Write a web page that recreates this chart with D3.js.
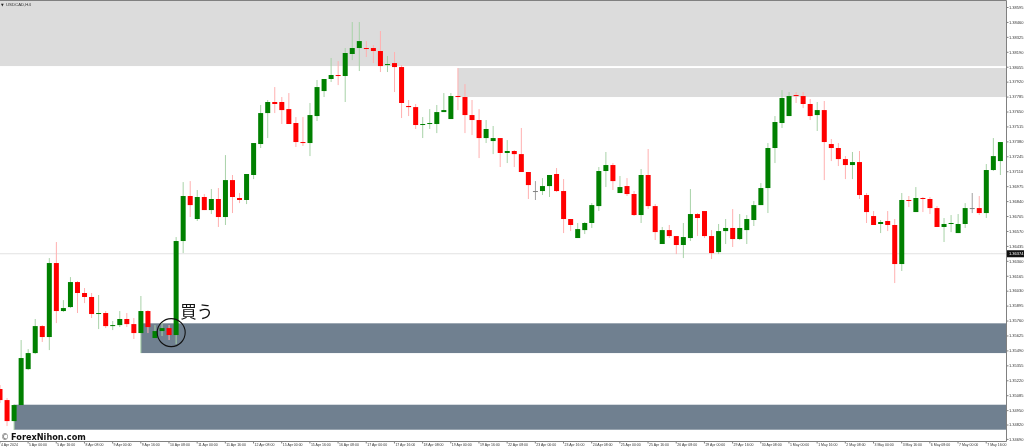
<!DOCTYPE html>
<html>
<head>
<meta charset="utf-8">
<script src="https://cdn.jsdelivr.net/npm/d3@7"></script>
<style>
  html, body { margin: 0; padding: 0; background: #fff; overflow: hidden; }
  svg { display: block; filter: blur(0.35px); }
  .tick text { font-family: "Liberation Sans", sans-serif; fill: #333; }
</style>
</head>
<body>
<div id="viz"></div>
<script>
const width = 1024;
const height = 447;

// USDCAD H4 quotes, in points (1/100000)
const opens = [
  135141,135041,134851,134996,135321,135466,135710,135611,136280,135846,
  135882,136108,136009,135973,135819,135828,135710,135719,135774,135728,
  135647,135846,135602,135665,135692,135629,136479,136886,136678,136877,
  136759,136859,136696,137030,136868,136850,137076,137356,137636,137736,
  137736,137672,137546,137374,137365,137609,137835,137944,137980,137971,
  138170,138224,138224,138224,138197,138070,138088,138052,137700,137690,
  137528,137537,137537,137645,137582,137790,137781,137618,137573,137410,
  137383,137410,137275,137293,137265,137103,136931,136931,136976,137085,
  136931,136678,136506,136578,136642,136795,137112,137166,136913,136976,
  136904,136714,137076,136795,136452,136578,136524,136443,136506,136723,
  136750,136524,136379,136569,136597,136497,136578,136669,136804,136958,
  137320,137546,137609,137799,137790,137718,137618,137663,137356,137320,
  137220,137166,137193,136895,136705,136633,136660,136624,136271,136850,
  136741,136868,136859,136777,136606,136633,136551,136633,136777,136777,
  136732,137121,137202
];
const highs = [
  135177,135059,135005,135584,135502,135774,135719,136325,136470,135945,
  136153,136117,136054,136009,135991,135846,135756,135846,135828,135783,
  135982,135855,135719,135747,135719,136515,137012,137021,136940,136904,
  136949,136958,137256,137076,136913,137085,137365,137709,137754,137871,
  137781,137817,137600,137600,137727,137935,137944,138134,138106,138224,
  138459,138459,138287,138251,138378,138152,138188,138070,137754,137718,
  137600,137672,137709,137817,137817,138043,137898,137754,137672,137573,
  137519,137410,137392,137302,137501,137103,137021,137048,137076,137139,
  137039,136678,136642,136651,136822,137148,137284,137184,137067,137048,
  136931,137130,137311,136813,136606,136624,136524,136642,136949,136732,
  136750,136578,136633,136678,136768,136723,136714,136841,137003,137365,
  137609,137844,137826,137826,137826,137763,137736,137745,137401,137365,
  137247,137284,137293,136913,136750,136669,136750,136678,136913,136886,
  136967,136877,136877,136795,136687,136714,136723,136822,136913,136886,
  137175,137410,137374
];
const lows = [
  135014,134806,134770,134996,135312,135457,135566,135493,135737,135837,
  135873,135828,135918,135783,135683,135692,135674,135701,135701,135593,
  135466,135647,135602,135620,135584,135548,136370,136696,136660,136759,
  136723,136606,136624,136732,136822,136813,137039,137320,137410,137636,
  137537,137537,137329,137338,137247,137564,137781,137917,137889,137736,
  138115,138016,138143,138088,138007,138007,137826,137591,137609,137492,
  137410,137492,137455,137645,137582,137663,137455,137437,137229,137365,
  137265,137148,137184,137148,137103,136859,136850,136895,136877,136922,
  136551,136569,136506,136542,136597,136750,136967,136940,136913,136886,
  136705,136642,136768,136488,136452,136506,136361,136325,136479,136524,
  136506,136316,136361,136452,136425,136488,136452,136615,136804,136732,
  137184,137501,137609,137727,137681,137573,137474,137030,137202,137157,
  137039,137039,136859,136642,136624,136551,136569,136099,136208,136786,
  136741,136741,136723,136606,136470,136560,136551,136597,136732,136714,
  136687,137112,137076
];
const closes = [
  135041,134851,134996,135421,135466,135710,135611,136280,135846,135873,
  136108,136009,135973,135819,135828,135710,135719,135774,135728,135647,
  135846,135701,135665,135692,135629,136479,136886,136804,136877,136759,
  136859,136696,137030,136877,136850,137085,137365,137636,137736,137718,
  137663,137537,137374,137365,137618,137871,137944,137980,137971,138179,
  138224,138287,138215,138197,138061,138079,138052,137727,137690,137528,
  137537,137546,137645,137663,137790,137781,137618,137573,137410,137492,
  137410,137275,137293,137265,137103,136985,136931,136976,137076,136931,
  136678,136624,136587,136642,136804,137112,137166,137021,136967,136904,
  136714,137076,136795,136560,136578,136524,136443,136515,136723,136687,
  136524,136370,136569,136597,136497,136597,136678,136804,136958,137320,
  137555,137772,137790,137790,137718,137609,137663,137374,137320,137220,
  137166,137193,136895,136741,136624,136651,136624,136271,136850,136841,
  136868,136859,136777,136606,136633,136642,136633,136777,136777,136732,
  137121,137247,137374
];

const priceTicks = [
  138595,138460,138325,138190,138055,137920,137785,137650,137515,137380,
  137245,137110,136975,136840,136705,136570,136435,136300,136165,136030,
  135895,135760,135625,135490,135355,135220,135085,134950,134820,134690
];
const timeLabels = [
  '4 Apr 2024','5 Apr 00:00','5 Apr 16:00','8 Apr 08:00','9 Apr 00:00','9 Apr 16:00',
  '10 Apr 08:00','11 Apr 00:00','11 Apr 16:00','12 Apr 08:00','15 Apr 00:00','15 Apr 16:00',
  '16 Apr 08:00','17 Apr 00:00','17 Apr 16:00','18 Apr 08:00','19 Apr 00:00','19 Apr 16:00',
  '22 Apr 08:00','23 Apr 00:00','23 Apr 16:00','24 Apr 08:00','25 Apr 00:00','25 Apr 16:00',
  '26 Apr 08:00','29 Apr 00:00','29 Apr 16:00','30 Apr 08:00','1 May 00:00','1 May 16:00',
  '2 May 08:00','3 May 00:00','3 May 16:00','6 May 08:00','7 May 00:00','7 May 16:00'
];
const barsPerLabel = 4;

// Supply and demand zones: price range and the bar where each one starts
const zones = [
  {top: 138650, bottom: 138061, start: 0, color: '#dcdcdc'},
  {top: 138043, bottom: 137781, start: 65, color: '#dcdcdc'},
  {top: 135735, bottom: 135466, start: 20, color: '#708090'},
  {top: 134999, bottom: 134773, start: 2, color: '#708090'}
];
const currentPrice = 136364;
const currentLabel = '1.36374';

const bars = opens.map((open, i) => ({
  i, open, high: highs[i], low: lows[i], close: closes[i]
}));

// Scales
const plotRight = 1006.5;
const plotBottom = 441.5;
const x = d3.scaleLinear().domain([0, 142]).range([0, 1000.4]);
const y = d3.scaleLinear().domain([138595, 134680]).range([7, 440]);

const svg = d3.select('#viz')
  .append('svg')
    .attr('width', width)
    .attr('height', height)
    .attr('viewBox', `0 0 ${width} ${height}`);

// Zones
svg.append('g')
  .selectAll('rect')
  .data(zones)
  .join('rect')
    .attr('x', d => x(d.start))
    .attr('y', d => y(d.top))
    .attr('width', d => plotRight - x(d.start))
    .attr('height', d => y(d.bottom) - y(d.top))
    .attr('fill', d => d.color);

// Current price line
svg.append('line')
  .attr('x1', 0)
  .attr('x2', plotRight)
  .attr('y1', y(currentPrice))
  .attr('y2', y(currentPrice))
  .attr('stroke', '#e2e2e2');

// Candles
const barColor = d => d.close > d.open ? '#008000' : d.close < d.open ? '#ff0000' : '#808080';
const wickColor = d => d.close > d.open ? '#a8d2a8' : d.close < d.open ? '#ffb0b0' : '#a0a0a0';

const candles = svg.append('g')
  .selectAll('g')
  .data(bars)
  .join('g');

candles.append('line')
  .attr('x1', d => x(d.i))
  .attr('x2', d => x(d.i))
  .attr('y1', d => y(d.high))
  .attr('y2', d => y(d.low))
  .attr('stroke', wickColor)
  .attr('stroke-width', 1);

candles.append('rect')
  .attr('x', d => x(d.i) - 2.5)
  .attr('y', d => y(Math.max(d.open, d.close)))
  .attr('width', 5)
  .attr('height', d => Math.max(1, Math.abs(y(d.open) - y(d.close))))
  .attr('fill', barColor);

// Frame
const frameColor = '#808080';
svg.append('path')
  .attr('d', `M0,0.5H${plotRight}V${plotBottom}H0`)
  .attr('fill', 'none')
  .attr('stroke', frameColor);

// Price axis
const yAxis = svg.append('g')
  .attr('transform', `translate(${plotRight}, 0)`)
  .call(d3.axisRight(y)
    .tickValues(priceTicks)
    .tickSize(2)
    .tickPadding(0.5)
    .tickFormat(d => (d / 100000).toFixed(5)));
yAxis.select('.domain').remove();
yAxis.selectAll('line').attr('stroke', frameColor);
yAxis.selectAll('text').style('font-size', '4px');

// Time axis, one label every four bars
const xAxis = svg.append('g')
  .attr('transform', `translate(-0.6, ${plotBottom})`)
  .call(d3.axisBottom(x)
    .tickValues(timeLabels.map((d, i) => i * barsPerLabel))
    .tickSize(2)
    .tickPadding(0)
    .tickFormat(d => timeLabels[d / barsPerLabel]));
xAxis.select('.domain').remove();
xAxis.selectAll('line').attr('stroke', frameColor);
xAxis.selectAll('text')
  .attr('text-anchor', 'start')
  .attr('x', 1)
  .attr('y', 2)
  .style('font-size', '3.5px');

// Current price tag
svg.append('rect')
  .attr('x', plotRight + 0.5)
  .attr('y', y(currentPrice) - 3.5)
  .attr('width', width - plotRight)
  .attr('height', 7)
  .attr('fill', '#111');
svg.append('text')
  .attr('x', plotRight + 2.5)
  .attr('y', y(currentPrice) + 1.5)
  .attr('fill', '#fff')
  .style('font-family', '"Liberation Sans", sans-serif')
  .style('font-size', '4px')
  .text(currentLabel);

// Symbol caption
svg.append('text')
  .attr('x', 1)
  .attr('y', 5.5)
  .attr('fill', '#222')
  .style('font-family', '"DejaVu Sans", sans-serif')
  .style('font-size', '3.5px')
  .text('▼');
svg.append('text')
  .attr('x', 6)
  .attr('y', 5.5)
  .attr('fill', '#333')
  .style('font-family', '"Liberation Sans", sans-serif')
  .style('font-size', '4.3px')
  .text('USDCAD,H4');

// Buy annotation
svg.append('circle')
  .attr('cx', x(24.3))
  .attr('cy', y(135651))
  .attr('r', 14)
  .attr('fill', 'none')
  .attr('stroke', '#111')
  .attr('stroke-width', 1.1);
svg.append('text')
  .attr('x', x(25.6))
  .attr('y', y(135780))
  .attr('fill', '#111')
  .style('font-family', '"Noto Sans CJK JP", sans-serif')
  .style('font-size', '16.5px')
  .text('買う');

// Watermark
svg.append('text')
  .attr('x', 1)
  .attr('y', 440)
  .attr('fill', '#555')
  .style('font-family', '"DejaVu Sans", sans-serif')
  .style('font-size', '8px')
  .text('©');
svg.append('text')
  .attr('x', 11)
  .attr('y', 440)
  .attr('fill', '#111')
  .style('font-family', '"DejaVu Sans", sans-serif')
  .style('font-weight', 700)
  .style('font-size', '8.2px')
  .text('ForexNihon.com');
</script>
</body>
</html>
